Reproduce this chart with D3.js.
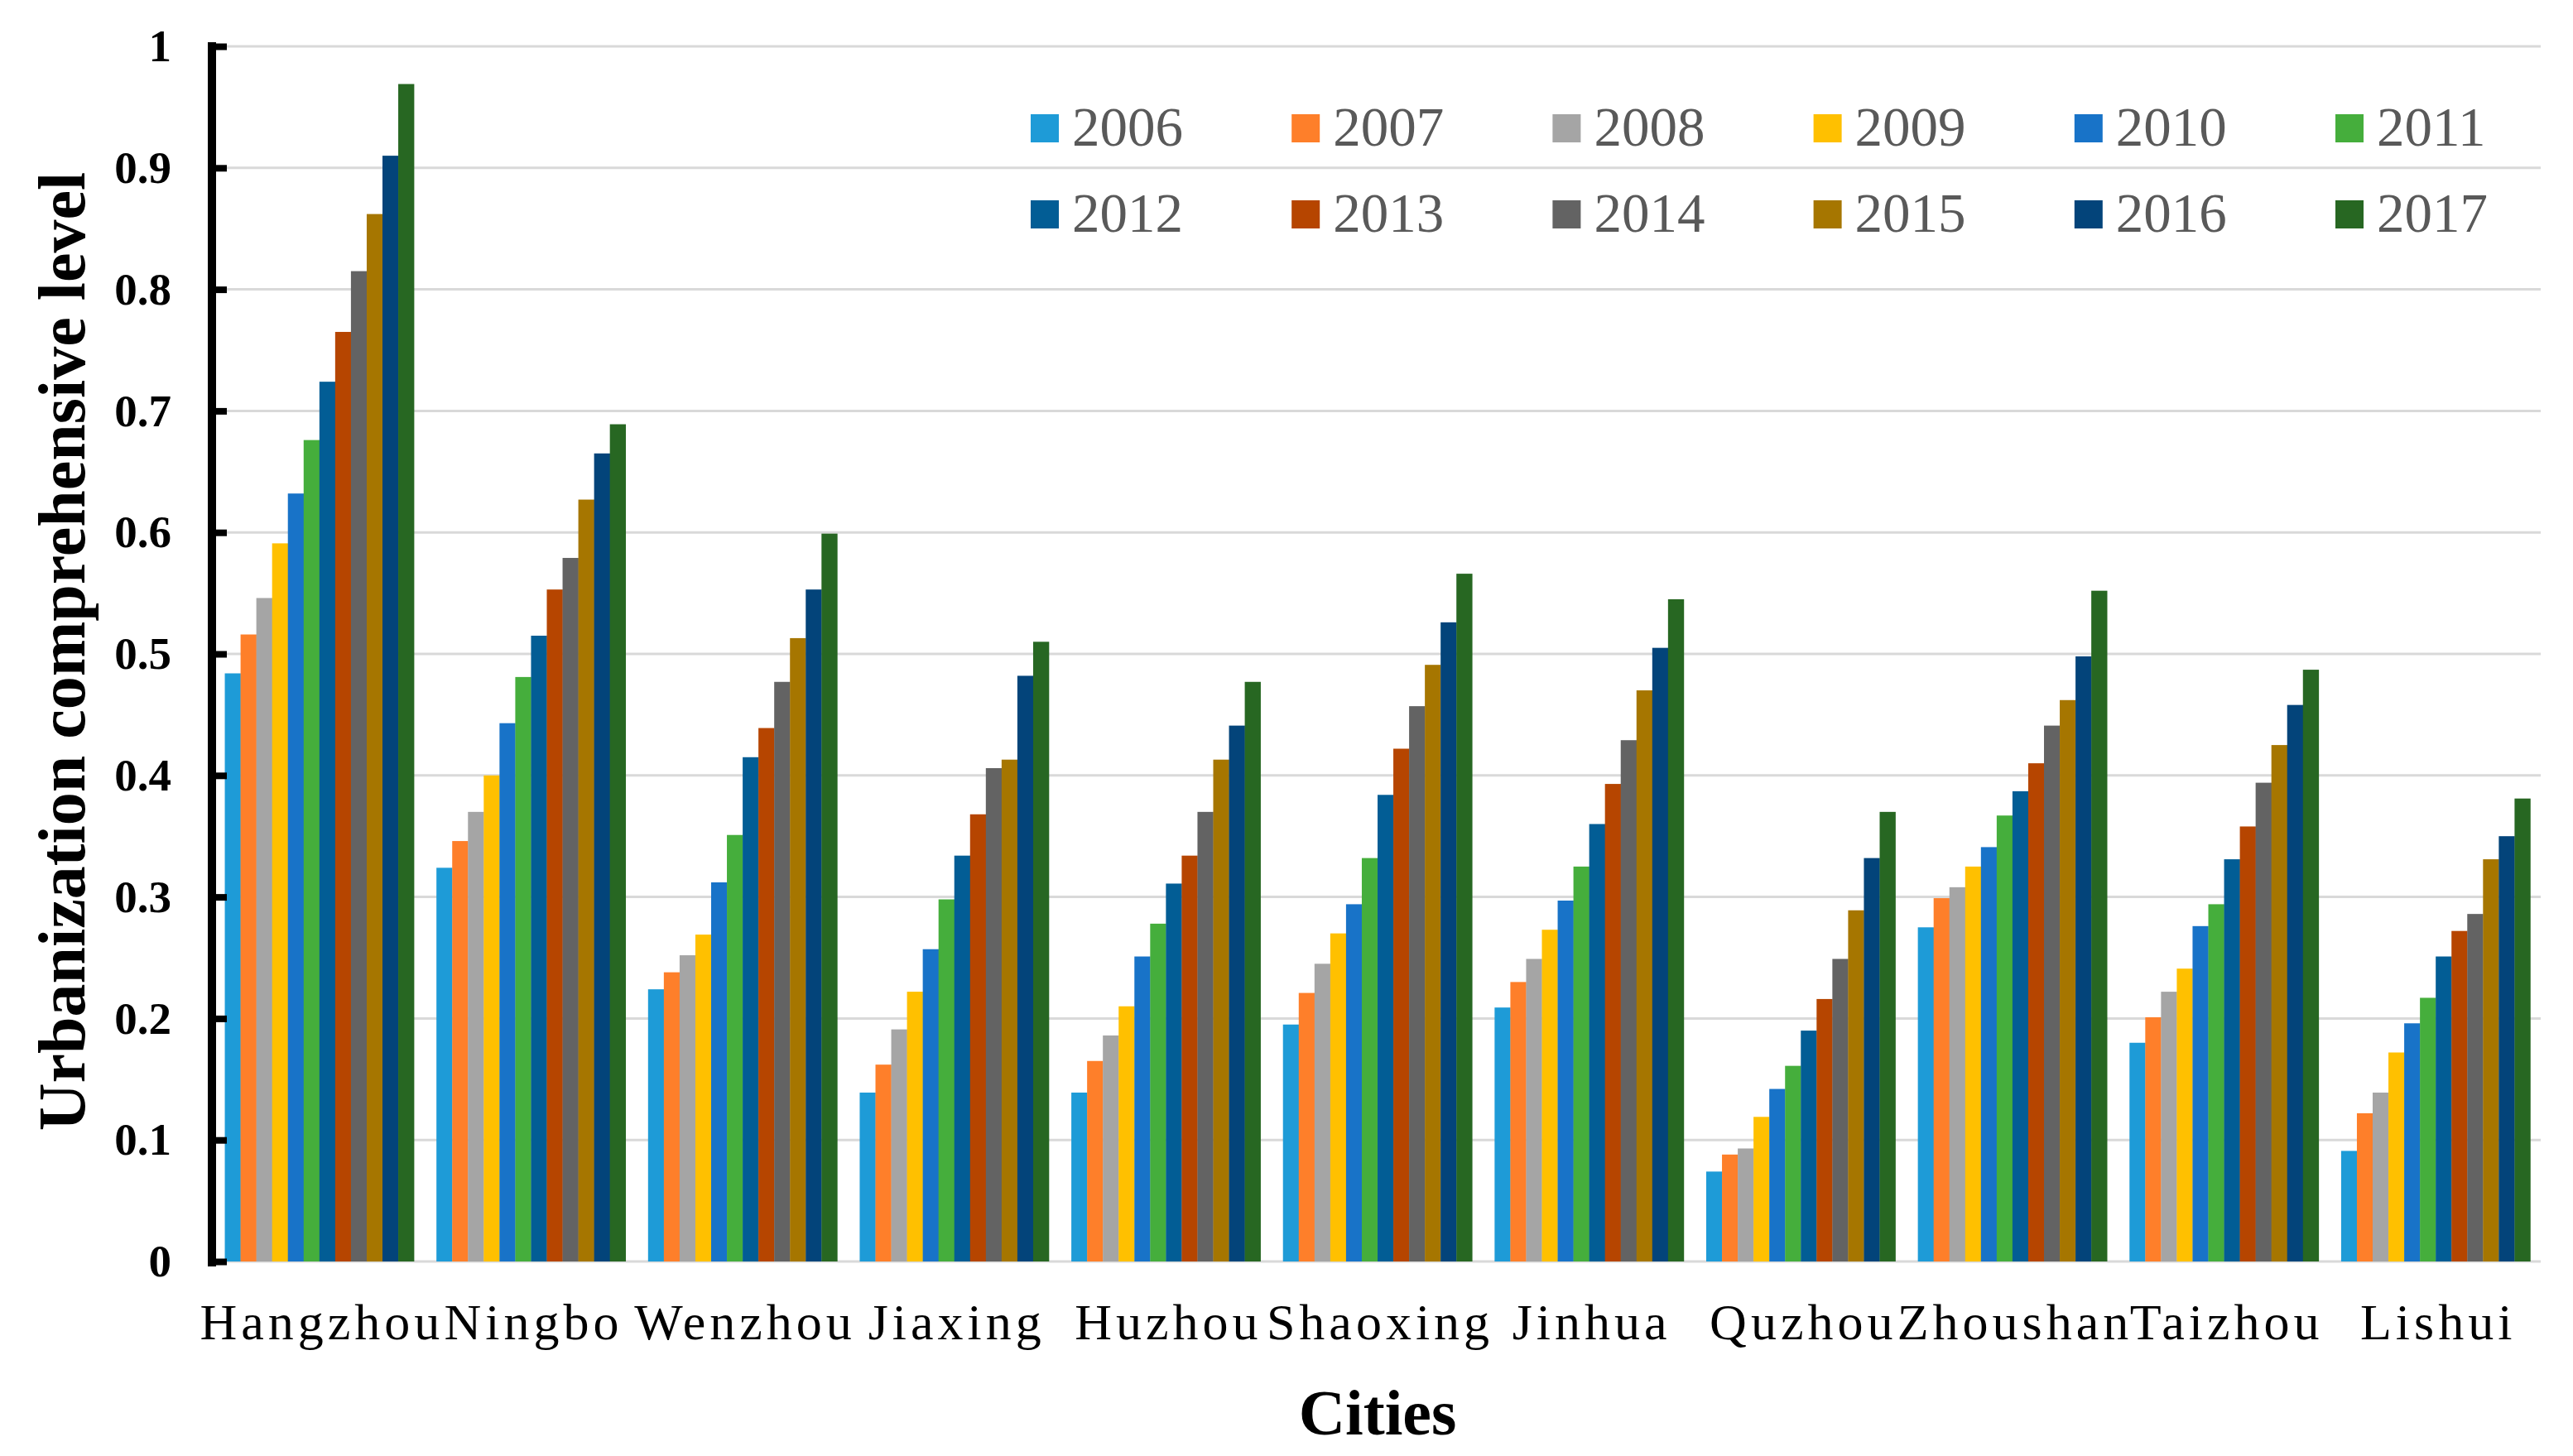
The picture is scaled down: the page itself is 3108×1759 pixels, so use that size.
<!DOCTYPE html>
<html>
<head>
<meta charset="utf-8">
<script src="https://cdn.jsdelivr.net/npm/d3@7"></script>
<style>
  body { margin: 0; background: #fff; }
  svg { display: block; }
</style>
</head>
<body>
<svg id="chart" width="3108" height="1759"></svg>
<script>
const cities = ["Hangzhou", "Ningbo", "Wenzhou", "Jiaxing", "Huzhou", "Shaoxing",
  "Jinhua", "Quzhou", "Zhoushan", "Taizhou", "Lishui"];
const years = ["2006", "2007", "2008", "2009", "2010", "2011",
  "2012", "2013", "2014", "2015", "2016", "2017"];
const colors = ["#1e9bd7", "#fe7f2a", "#a5a5a5", "#ffc000", "#1873c8", "#45ae3c",
  "#025d95", "#b64500", "#636363", "#a67600", "#03447a", "#276722"];

// one array per city, values for 2006..2017
const hangzhou = [0.484, 0.516, 0.546, 0.591, 0.632, 0.676, 0.724, 0.765, 0.815, 0.862, 0.910, 0.969];
const ningbo   = [0.324, 0.346, 0.370, 0.400, 0.443, 0.481, 0.515, 0.553, 0.579, 0.627, 0.665, 0.689];
const wenzhou  = [0.224, 0.238, 0.252, 0.269, 0.312, 0.351, 0.415, 0.439, 0.477, 0.513, 0.553, 0.599];
const jiaxing  = [0.139, 0.162, 0.191, 0.222, 0.257, 0.298, 0.334, 0.368, 0.406, 0.413, 0.482, 0.510];
const huzhou   = [0.139, 0.165, 0.186, 0.210, 0.251, 0.278, 0.311, 0.334, 0.370, 0.413, 0.441, 0.477];
const shaoxing = [0.195, 0.221, 0.245, 0.270, 0.294, 0.332, 0.384, 0.422, 0.457, 0.491, 0.526, 0.566];
const jinhua   = [0.209, 0.230, 0.249, 0.273, 0.297, 0.325, 0.360, 0.393, 0.429, 0.470, 0.505, 0.545];
const quzhou   = [0.074, 0.088, 0.093, 0.119, 0.142, 0.161, 0.190, 0.216, 0.249, 0.289, 0.332, 0.370];
const zhoushan = [0.275, 0.299, 0.308, 0.325, 0.341, 0.367, 0.387, 0.410, 0.441, 0.462, 0.498, 0.552];
const taizhou  = [0.180, 0.201, 0.222, 0.241, 0.276, 0.294, 0.331, 0.358, 0.394, 0.425, 0.458, 0.487];
const lishui   = [0.091, 0.122, 0.139, 0.172, 0.196, 0.217, 0.251, 0.272, 0.286, 0.331, 0.350, 0.381];

const yTicks = [0, 0.1, 0.2, 0.3, 0.4, 0.5, 0.6, 0.7, 0.8, 0.9, 1];
const yTickLabels = ["0", "0.1", "0.2", "0.3", "0.4", "0.5", "0.6", "0.7", "0.8", "0.9", "1"];

const series = [hangzhou, ningbo, wenzhou, jiaxing, huzhou, shaoxing,
  jinhua, quzhou, zhoushan, taizhou, lishui];

const svg = d3.select("#chart"),
  plotLeft = 258, plotRight = 3070, plotTop = 56, plotBottom = 1524;

const x = d3.scaleBand()
  .domain(cities)
  .range([plotLeft, plotRight])
  .paddingInner(0.106)
  .paddingOuter(0.053);

const x1 = d3.scaleBand()
  .domain(years)
  .range([0, x.bandwidth()]);

const y = d3.scaleLinear()
  .domain([0, 1])
  .range([plotBottom, plotTop]);

const color = d3.scaleOrdinal().domain(years).range(colors);

// gridlines
svg.append("g")
  .selectAll("line")
  .data(yTicks)
  .join("line")
  .attr("x1", 261)
  .attr("x2", 3069)
  .attr("y1", d => y(d))
  .attr("y2", d => y(d))
  .attr("stroke", "#d9d9d9")
  .attr("stroke-width", 3);

// bars
const groups = svg.append("g")
  .selectAll("g")
  .data(cities)
  .join("g")
  .attr("transform", d => "translate(" + x(d) + ",0)");

groups.selectAll("rect")
  .data((d, i) => series[i].map((v, j) => ({year: years[j], value: v})))
  .join("rect")
  .attr("x", d => x1(d.year))
  .attr("width", x1.bandwidth() + 0.3)
  .attr("y", d => y(d.value))
  .attr("height", d => y(0) - y(d.value))
  .attr("fill", d => color(d.year));

// y axis
const yAxis = svg.append("g")
  .attr("transform", "translate(256,0)")
  .call(d3.axisLeft(y)
    .tickValues(yTicks)
    .tickFormat((d, i) => yTickLabels[i])
    .tickSizeInner(-18)
    .tickSizeOuter(0)
    .tickPadding(49));

yAxis.select(".domain")
  .attr("stroke", "#000")
  .attr("stroke-width", 10)
  .attr("d", "M0," + (y(0) + 6) + "V" + (y(1) - 5));

yAxis.selectAll(".tick line")
  .attr("stroke", "#000")
  .attr("stroke-width", 8);

yAxis.selectAll(".tick text")
  .attr("fill", "#000")
  .attr("font-family", "'Liberation Serif', 'Times New Roman', serif")
  .attr("font-weight", "bold")
  .attr("font-size", 55);

// x labels
svg.append("g")
  .selectAll("text")
  .data(cities)
  .join("text")
  .attr("x", d => x(d) + x.bandwidth() / 2 + 3)
  .attr("y", 1618)
  .attr("text-anchor", "middle")
  .attr("font-family", "'Liberation Serif', 'Times New Roman', serif")
  .attr("font-size", 62)
  .attr("letter-spacing", 5)
  .attr("fill", "#000")
  .text(d => d);

// axis titles
svg.append("text")
  .attr("x", (plotLeft + plotRight) / 2)
  .attr("y", 1733)
  .attr("text-anchor", "middle")
  .attr("font-family", "'Liberation Serif', 'Times New Roman', serif")
  .attr("font-weight", "bold")
  .attr("font-size", 78)
  .text("Cities");

svg.append("text")
  .attr("transform", "translate(102,787) rotate(-90)")
  .attr("text-anchor", "middle")
  .attr("font-family", "'Liberation Serif', 'Times New Roman', serif")
  .attr("font-weight", "bold")
  .attr("font-size", 80)
  .text("Urbanization comprehensive level");

// legend, 2 rows of 6
const legend = svg.append("g")
  .selectAll("g")
  .data(years)
  .join("g")
  .attr("transform", (d, i) => "translate(" + (1245 + (i % 6) * 315.2) + "," + (138 + Math.floor(i / 6) * 104) + ")");

legend.append("rect")
  .attr("width", 34)
  .attr("height", 34)
  .attr("fill", d => color(d));

legend.append("text")
  .attr("x", 50)
  .attr("y", 38)
  .attr("font-family", "'Liberation Serif', 'Times New Roman', serif")
  .attr("font-size", 67)
  .attr("fill", "#595959")
  .text(d => d);
</script>
</body>
</html>
